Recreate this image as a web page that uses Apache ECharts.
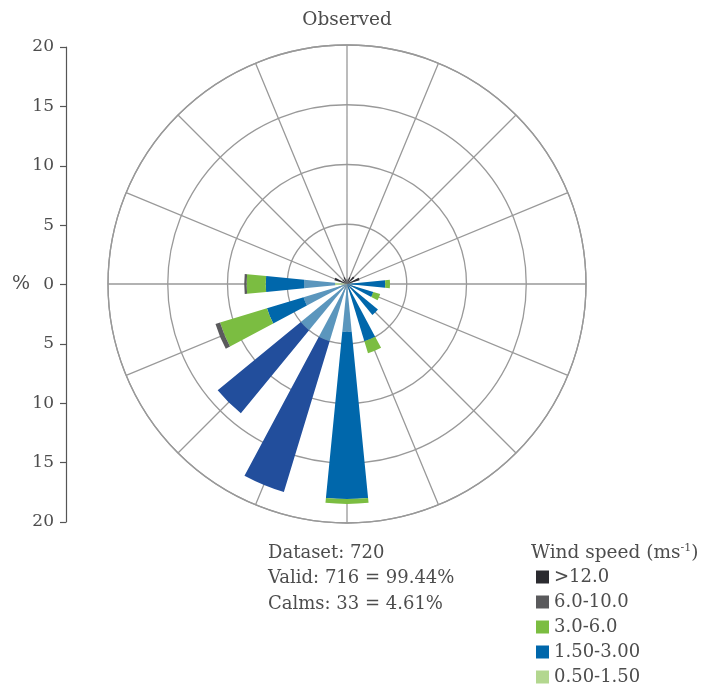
<!DOCTYPE html>
<html>
<head>
<meta charset="utf-8">
<script src="https://cdn.jsdelivr.net/npm/echarts@6/dist/echarts.min.js"></script>
<style>html,body{margin:0;padding:0;background:#fff}#c{width:705px;height:686px}</style>
</head>
<body>
<div id="c"></div>
<script>
// Directions (clockwise from North)
var directions = ['N','NNE','NE','ENE','E','ESE','SE','SSE','S','SSW','SW','WSW','W','WNW','NW','NNW'];
// Stacked segment lengths (% of time), inner to outer
var calmLow   = [0,0,0,0,0,0,0,0,0,0,0,0,1.0,0,0,0];          // 0.50-1.50
var innerBlue = [0,0,0,0,0,0,0,0,4.0,5.0,5.0,3.8,2.6,0,0,0];   // light steel inner segments
var navyBlue  = [0,0,0,0,0,0,0,0,0,13.2,9.0,0,0,0,0,0];        // dark navy segments
var speed15   = [0,0,0,0,3.2,2.3,3.35,5.0,14.0,0,0,3.2,3.2,0,0,0]; // 1.50-3.00
var speed3    = [0,0,0,0,0.4,0.6,0,1.05,0.4,0,0,4.1,1.6,0,0,0];   // 3.0-6.0
var speed6    = [0,0,0,0,0,0,0,0,0,0,0,0.4,0.2,0,0,0];            // 6.0-10.0
var speed12   = [0.4,0.6,0.8,1.1,0,0,0,0,0,0,0,0,0,1.1,0.5,0.6];  // >12.0
var legendNames = ['>12.0','6.0-10.0','3.0-6.0','1.50-3.00','0.50-1.50'];
var pctTicks = [-20,-15,-10,-5,0,5,10,15,20];
var infoLines = ['Dataset: 720','Valid: 716 = 99.44%','Calms: 33 = 4.61%'];

var txt = '#4d4d4d';
var font = 'DejaVu Serif';
var C = {black:'#2b2b30', gray:'#5a5a5c', green:'#7bbd41', blue:'#0067ab', lgreen:'#b3d78f', steel:'#5b96bd', navy:'#224e9c'};
var center = [347, 284], R = 239;

function barSeries(name, data, color) {
  return {type:'bar', name:name, data:data, coordinateSystem:'polar', polarIndex:0,
    stack:'rose', barWidth:'50%', itemStyle:{color:color}, silent:true, z:3};
}
function label(text, x, y, size, align) {
  return {type:'text', x:x, y:y, style:{text:text, fill:txt, fontFamily:font, fontSize:size,
    align:align || 'left', verticalAlign:'middle'}};
}

var chart = echarts.init(document.getElementById('c'));
chart.setOption({
  animation:false,
  polar:[{center:center, radius:R},{center:center, radius:R}],
  angleAxis:[
    {polarIndex:0, type:'category', data:directions, startAngle:101.25, clockwise:true,
     axisLine:{show:false}, axisTick:{show:false}, axisLabel:{show:false}, splitLine:{show:false}},
    {polarIndex:1, type:'value', min:0, max:360, interval:22.5, startAngle:90, clockwise:true,
     axisLine:{show:true, lineStyle:{color:'#999', width:1.3}}, axisTick:{show:false}, axisLabel:{show:false},
     splitLine:{show:true, lineStyle:{color:'#999', width:1.3}}}
  ],
  radiusAxis:[
    {polarIndex:0, type:'value', min:0, max:20, axisLine:{show:false}, axisTick:{show:false}, axisLabel:{show:false}, splitLine:{show:false}},
    {polarIndex:1, type:'value', min:0, max:20, interval:5, axisLine:{show:false}, axisTick:{show:false}, axisLabel:{show:false},
     splitLine:{show:true, lineStyle:{color:'#999', width:1.3}}}
  ],
  grid:{left:66, top:47, height:475, width:1},
  xAxis:{type:'value', show:false},
  yAxis:{type:'value', min:pctTicks[0], max:pctTicks[pctTicks.length-1], interval:5,
    axisLine:{show:true, lineStyle:{color:'#555', width:1.2}},
    axisTick:{show:true, length:6, lineStyle:{color:'#555', width:1.2}},
    splitLine:{show:false},
    axisLabel:{color:txt, fontFamily:font, fontSize:17, margin:12, formatter:function(v){return Math.abs(v);}}},
  legend:{data:legendNames, orient:'vertical', left:531, top:563, height:160, itemWidth:13, itemHeight:13, itemGap:7,
    icon:'rect', selectedMode:false,
    textStyle:{color:txt, fontFamily:font, fontSize:18, padding:[0,0,0,0]}},
  graphic:[
    label('Observed', 347, 20, 18.5, 'center'),
    label('%', 12, 284, 19),
    label(infoLines[0], 268, 553, 18),
    label(infoLines[1], 268, 578, 18),
    label(infoLines[2], 268, 604, 18),
    {type:'text', x:531, y:553, style:{text:'Wind speed (ms{s|-1})', fill:txt, fontFamily:font, fontSize:18.5,
      verticalAlign:'middle',
      rich:{s:{fontSize:11, fill:txt, fontFamily:font, verticalAlign:'top', padding:[0,0,9,0]}}}}
  ],
  series:[
    barSeries('0.50-1.50', calmLow, C.lgreen),
    barSeries('inner', innerBlue, C.steel),
    barSeries('navy', navyBlue, C.navy),
    barSeries('1.50-3.00', speed15, C.blue),
    barSeries('3.0-6.0', speed3, C.green),
    barSeries('6.0-10.0', speed6, C.gray),
    barSeries('>12.0', speed12, C.black)
  ]
});
</script>
</body>
</html>
